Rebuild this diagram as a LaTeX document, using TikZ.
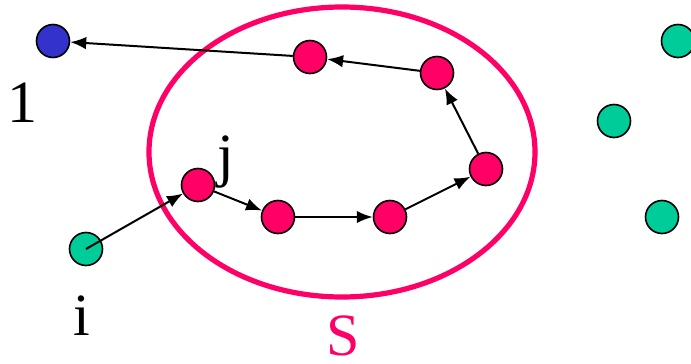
\documentclass[tikz,border=0pt]{standalone}
\usepackage{fontspec}
\setmainfont{Liberation Serif}
\usetikzlibrary{arrows.meta}
\definecolor{CutPink}{RGB}{255,0,102}
\definecolor{CutBlue}{RGB}{51,51,204}
\definecolor{CutGreen}{RGB}{0,204,153}
\tikzset{
  cut/vertex/.style={
    circle,
    draw=black,
    line width=0.8pt,
    minimum size=16.5pt,
    inner sep=0pt
  },
  cut/inside/.style={cut/vertex, fill=CutPink},
  cut/outside/.style={cut/vertex, fill=CutGreen},
  cut/target/.style={cut/vertex, fill=CutBlue},
  cut/arrow/.style={-{Latex[length=2.8mm,width=2.2mm]}, line width=1pt, draw=black},
  cut/label/.style={font=\fontsize{30}{32}\selectfont, anchor=base, inner sep=0pt}
}
\begin{document}
\begin{tikzpicture}[x=0.5pt,y=-0.5pt]
  \useasboundingbox (0,0) rectangle (691,364);
  % the set S
  \draw[CutPink, line width=2.6pt] (342,152) ellipse [x radius=193, y radius=145];
  \node[cut/label, text=CutPink] (lblS) at (343,355) {S};
  % vertices
  \node[cut/target]  (v1) at (53,41) {};
  \node[cut/outside] (vi) at (86,249) {};
  \node[cut/inside]  (vj) at (198,185) {};
  \node[cut/inside]  (s2) at (278,217) {};
  \node[cut/inside]  (s3) at (390,217) {};
  \node[cut/inside]  (s4) at (486,169) {};
  \node[cut/inside]  (s5) at (437,73) {};
  \node[cut/inside]  (s6) at (310,57) {};
  \node[cut/outside] (o1) at (678,41) {};
  \node[cut/outside] (o2) at (614,121) {};
  \node[cut/outside] (o3) at (662,217) {};
  % labels
  \node[cut/label] (lbl1) at (22,122) {1};
  \node[cut/label] (lbli) at (82,335) {i};
  \node[cut/label] (lblj) at (226,175) {j};
  % path from i to 1
  \draw[cut/arrow] (vi.center) -- (vj);
  \draw[cut/arrow] (vj) -- (s2);
  \draw[cut/arrow] (s2) -- (s3);
  \draw[cut/arrow] (s3) -- (s4);
  \draw[cut/arrow] (s4) -- (s5);
  \draw[cut/arrow] (s5) -- (s6);
  \draw[cut/arrow] (s6) -- (v1);
\end{tikzpicture}
\end{document}
